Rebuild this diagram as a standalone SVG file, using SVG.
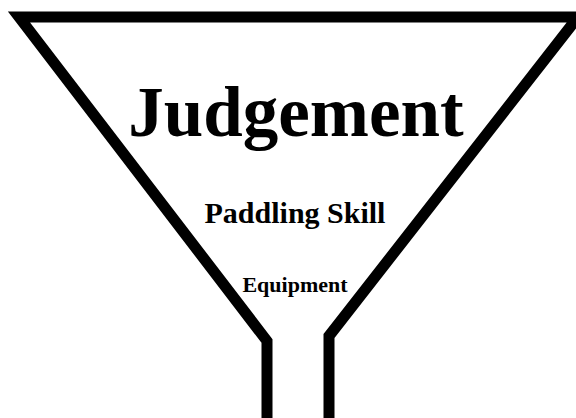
<svg xmlns="http://www.w3.org/2000/svg" width="576" height="418" viewBox="0 0 576 418">
<style>
.f{fill:none;stroke:#000;stroke-width:11;stroke-linejoin:miter;stroke-miterlimit:10}
text{font-family:"Liberation Serif","Times New Roman",serif;font-weight:bold;fill:#000;text-anchor:middle}
</style>
<rect width="576" height="418" fill="#fff"/>
<g id="connectors">
<path class="f" d="M267,430 L267,341 L19,17 L578,17 L329,336 L329,430"/>
</g>
<g id="judgement"><text x="296" y="136" font-size="71">Judgement</text></g>
<g id="paddling"><text x="295" y="223" font-size="30">Paddling Skill</text></g>
<g id="equipment"><text x="295" y="292" font-size="22">Equipment</text></g>
</svg>
